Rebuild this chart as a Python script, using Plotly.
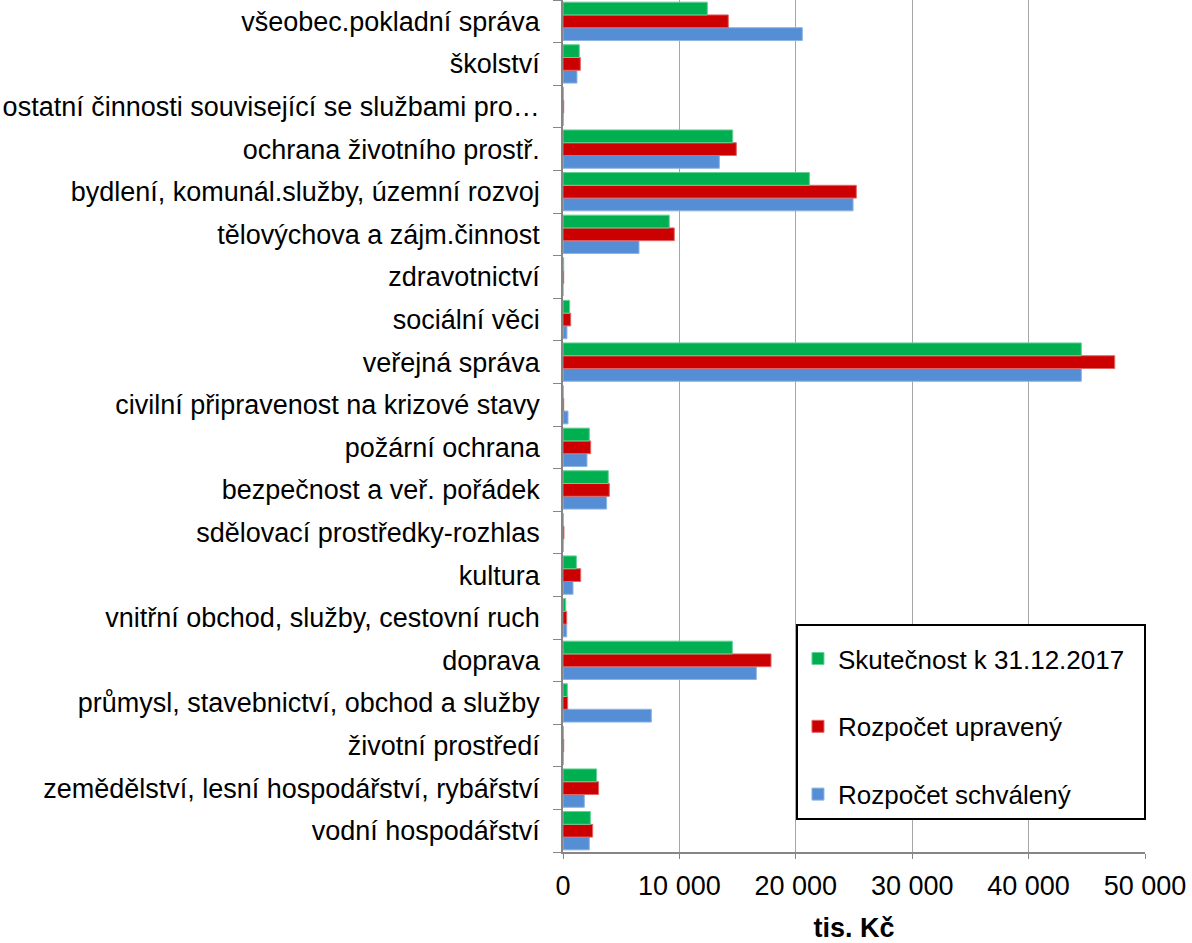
import plotly.graph_objects as go

categories = [
    "vodní hospodářství",
    "zemědělství, lesní hospodářství, rybářství",
    "životní prostředí",
    "průmysl, stavebnictví, obchod a služby",
    "doprava",
    "vnitřní obchod, služby, cestovní ruch",
    "kultura",
    "sdělovací prostředky-rozhlas",
    "bezpečnost a veř. pořádek",
    "požární ochrana",
    "civilní připravenost na krizové stavy",
    "veřejná správa",
    "sociální věci",
    "zdravotnictví",
    "tělovýchova a zájm.činnost",
    "bydlení, komunál.služby, územní rozvoj",
    "ochrana životního prostř.",
    "ostatní činnosti související se službami pro…",
    "školství",
    "všeobec.pokladní správa",
]

skutecnost = [2350, 2890, 30, 370, 14550, 230, 1150, 20, 3890, 2260, 10, 44530, 570, 60, 9130, 21170, 14580, 30, 1400, 12400]
upraveny = [2550, 3060, 60, 400, 17870, 320, 1520, 80, 3980, 2380, 60, 47400, 660, 60, 9560, 25200, 14890, 60, 1490, 14200]
schvaleny = [2260, 1830, 40, 7590, 16610, 320, 860, 20, 3750, 2060, 430, 44530, 340, 0, 6530, 24920, 13430, 30, 1200, 20560]

x_ticks = [0, 10000, 20000, 30000, 40000, 50000]

FONT = "Liberation Sans, Arial, sans-serif"

fig = go.Figure()
series = [
    ("Rozpočet schválený", schvaleny, "#558ED5", "#8DB4E2", 3),
    ("Rozpočet upravený", upraveny, "#CC0000", "#E06666", 2),
    ("Skutečnost k 31.12.2017\u00a0\u00a0", skutecnost, "#00B050", "#66D096", 1),
]
for i, (name, vals, col, lcol, rank) in enumerate(series):
    fig.add_trace(go.Bar(
        y=categories, x=vals, name=name, orientation="h",
        marker=dict(color=col, line=dict(color=lcol, width=1)),
        legendgroup=f"g{i}", legendrank=rank,
    ))

fig.update_layout(
    width=1192, height=943,
    barmode="group", bargap=0.1, bargroupgap=0.0,
    plot_bgcolor="white", paper_bgcolor="white",
    separators=", ",
    margin=dict(l=563, r=47, t=0, b=91),
    font=dict(family=FONT, size=27, color="black"),
    showlegend=True,
    legend=dict(
        x=0.4003, y=0.2676, xanchor="left", yanchor="top",
        bgcolor="white", bordercolor="black", borderwidth=2,
        traceorder="grouped", tracegroupgap=31,
        font=dict(family=FONT, size=26, color="black"),
        itemwidth=30,
        title=dict(text=" ", font=dict(size=7)),
    ),
)

fig.update_xaxes(
    range=[0, 50000], tickvals=x_ticks, tickformat=",d",
    showgrid=True, gridcolor="#A6A6A6", gridwidth=1,
    showline=True, linecolor="#868686", linewidth=1.5,
    ticks="outside", ticklen=5, tickcolor="#868686",
    tickfont=dict(size=27), ticklabelstandoff=4,
    title=dict(text="<b>tis. Kč</b>", font=dict(size=27), standoff=22),
    zeroline=False,
)
fig.update_yaxes(
    categoryorder="array", categoryarray=categories,
    showline=True, linecolor="#868686", linewidth=1.5,
    ticks="outside", ticklen=8, tickcolor="#868686", tickson="boundaries",
    tickfont=dict(size=27), ticklabelstandoff=16,
    showgrid=False, automargin=False,
)

fig.write_html("out.html", config={"displayModeBar": False},
               post_script="document.body.style.margin='0';")
